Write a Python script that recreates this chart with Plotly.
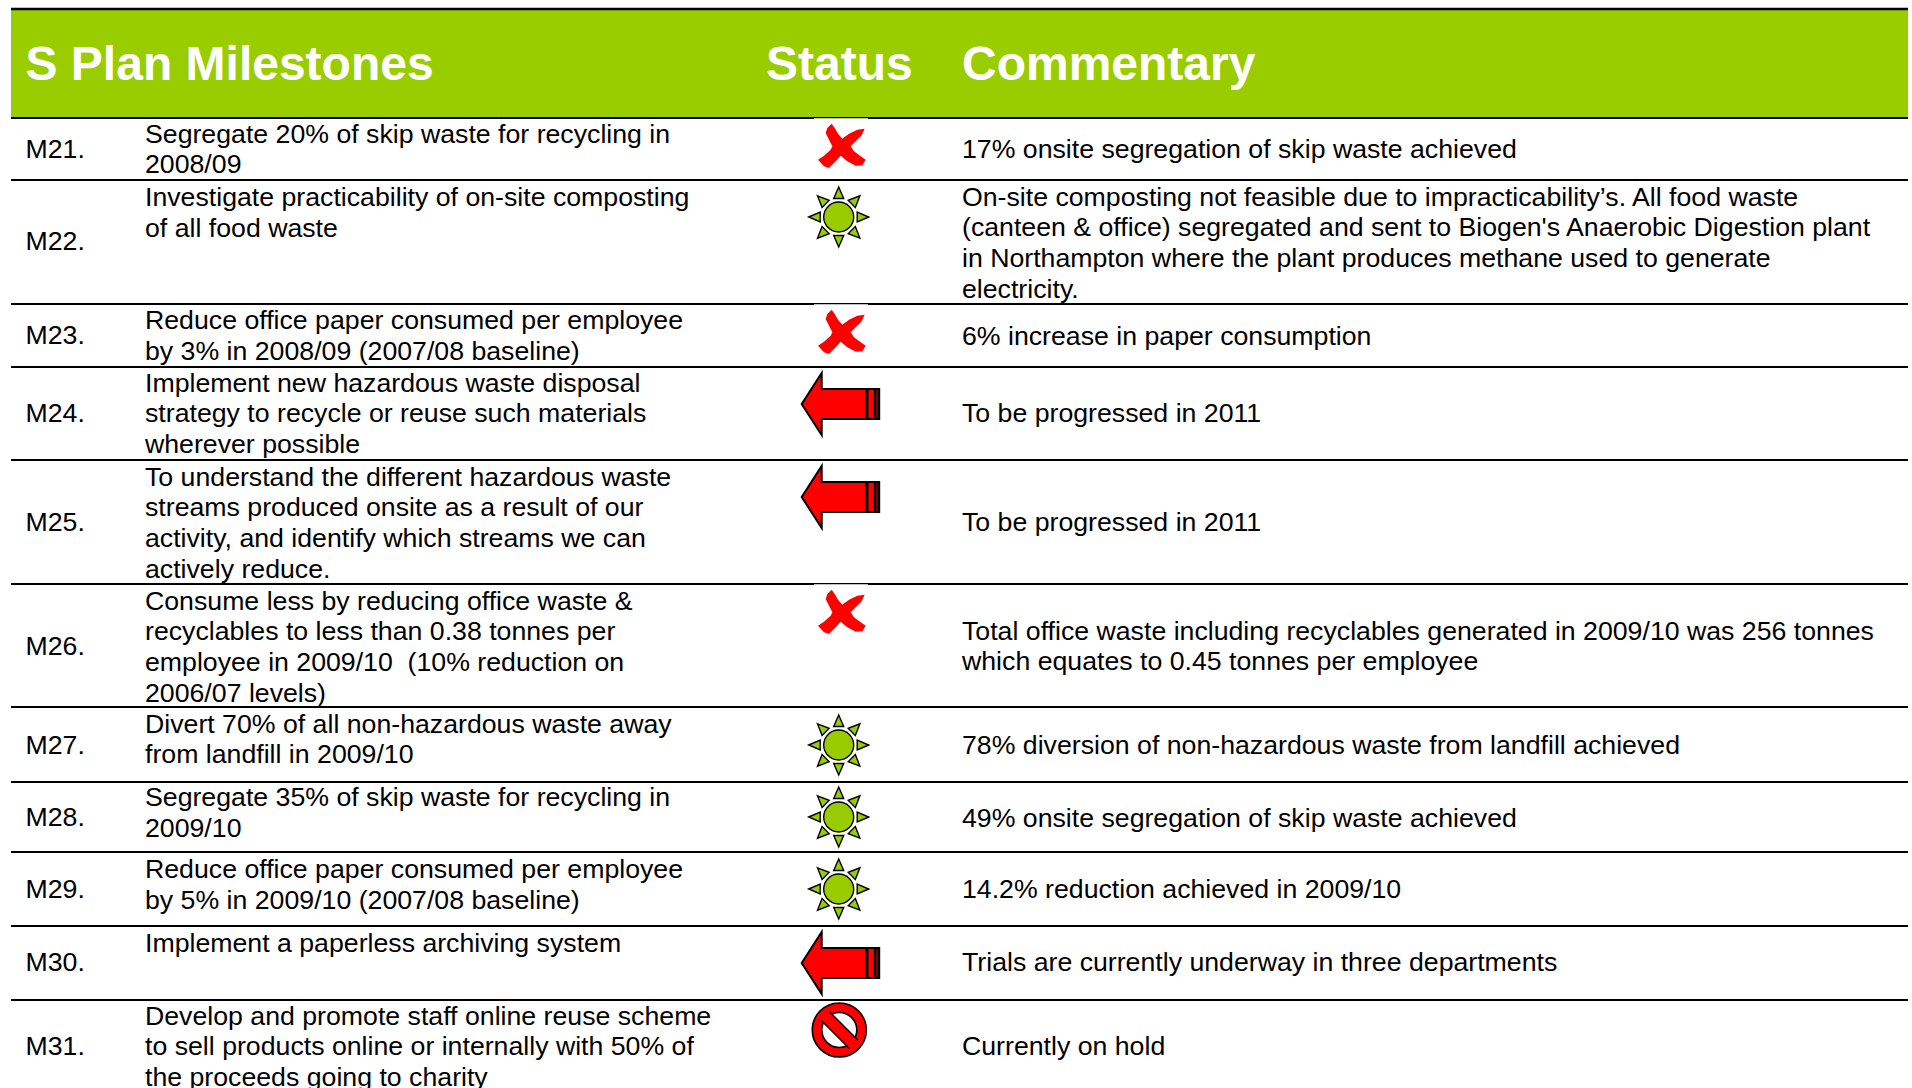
import math
import plotly.graph_objects as go

# ---------- content ----------
header_titles = ["S Plan Milestones", "Status", "Commentary"]
milestone_ids = ["M21.", "M22.", "M23.", "M24.", "M25.", "M26.", "M27.", "M28.", "M29.", "M30.", "M31."]
milestones = [
    ["Segregate 20% of skip waste for recycling in", "2008/09"],
    ["Investigate practicability of on-site composting", "of all food waste"],
    ["Reduce office paper consumed per employee", "by 3% in 2008/09 (2007/08 baseline)"],
    ["Implement new hazardous waste disposal", "strategy to recycle or reuse such materials", "wherever possible"],
    ["To understand the different hazardous waste", "streams produced onsite as a result of our", "activity, and identify which streams we can", "actively reduce."],
    ["Consume less by reducing office waste &", "recyclables to less than 0.38 tonnes per", "employee in 2009/10  (10% reduction on", "2006/07 levels)"],
    ["Divert 70% of all non-hazardous waste away", "from landfill in 2009/10"],
    ["Segregate 35% of skip waste for recycling in", "2009/10"],
    ["Reduce office paper consumed per employee", "by 5% in 2009/10 (2007/08 baseline)"],
    ["Implement a paperless archiving system"],
    ["Develop and promote staff online reuse scheme", "to sell products online or internally with 50% of", "the proceeds going to charity"],
]
statuses = ["cross", "sun", "cross", "arrow", "arrow", "cross", "sun", "sun", "sun", "arrow", "ban"]
commentary = [
    ["17% onsite segregation of skip waste achieved"],
    ["On-site composting not feasible due to impracticability\u2019s. All food waste",
     "(canteen & office) segregated and sent to Biogen's Anaerobic Digestion plant",
     "in Northampton where the plant produces methane used to generate", "electricity."],
    ["6% increase in paper consumption"],
    ["To be progressed in 2011"],
    ["To be progressed in 2011"],
    ["Total office waste including recyclables generated in 2009/10 was 256 tonnes",
     "which equates to 0.45 tonnes per employee"],
    ["78% diversion of non-hazardous waste from landfill achieved"],
    ["49% onsite segregation of skip waste achieved"],
    ["14.2% reduction achieved in 2009/10"],
    ["Trials are currently underway in three departments"],
    ["Currently on hold"],
]

# ---------- layout (page pixels) ----------
W, H = 1912, 1088
LEFT, RIGHT = 11, 1908
X_ID, X_MS, X_STATUS_HEAD, X_COMM = 25.5, 145, 766, 962
HEAD_Y = 67.5
PITCH = 30.7
SEPARATORS = [118, 180, 304, 367, 460, 584, 707, 782, 852, 926, 1000]
ID_Y = [151, 243.5, 337.5, 415.5, 524, 648, 747, 819, 891, 964, 1048]
MS_Y = [136, 199.5, 322.5, 385, 479, 603, 726, 799.5, 871.5, 945, 1018]
COMM_Y = [151, 199, 338, 415.5, 524, 633, 747, 820, 891, 964, 1048]
ICON_Y = [146, 217, 332, 404, 497, 612, 745, 817, 889, 963, 1030]
ICON_X = {"cross": 841, "sun": 838.7, "arrow": 801.7, "ban": 839.3}
BODY_SIZE = 26.7
HEAD_SIZE = 48
GREEN = "#9ACD00"
RED = "#FF0000"
SUN_FILL = "#99CC00"


def poly(pts):
    return "M " + " L ".join(f"{x:.2f},{y:.2f}" for x, y in pts) + " Z"


def path_shape(d, fill, line=None, width=0):
    return dict(type="path", path=d, xref="x", yref="y", fillcolor=fill,
                line=dict(color=line or "rgba(0,0,0,0)", width=width), layer="above")


def circle_shape(cx, cy, r, fill, line, width):
    return dict(type="circle", x0=cx - r, x1=cx + r, y0=cy - r, y1=cy + r, xref="x", yref="y",
                fillcolor=fill, line=dict(color=line, width=width), layer="above")


CROSS_OUTLINE = [(200, 25), (213, 12), (222, 25), (232, 42), (245, 57), (265, 42), (290, 30), (312, 27),
                 (302, 48), (285, 65), (270, 80), (280, 95), (300, 110), (315, 120), (305, 137), (285, 138),
                 (260, 125), (240, 108), (225, 125), (205, 145), (190, 140), (172, 120), (190, 108), (210, 90),
                 (215, 80), (205, 60), (195, 40)]


def cross_icon(cx, cy):
    return [path_shape(poly([(cx + (x - 241) / 3, cy + (y - 79) / 3) for x, y in CROSS_OUTLINE]), RED)]


def sun_icon(cx, cy):
    out = []
    for k in range(8):
        a = k * math.pi / 4
        ux, uy = math.cos(a), math.sin(a)
        px, py = -uy, ux
        tip = (cx + 30 * ux, cy + 30 * uy)
        b1 = (cx + 18.5 * ux + 5 * px, cy + 18.5 * uy + 5 * py)
        b2 = (cx + 18.5 * ux - 5 * px, cy + 18.5 * uy - 5 * py)
        out.append(path_shape(poly([tip, b1, b2]), SUN_FILL, "black", 1.4))
    out.append(circle_shape(cx, cy, 15, SUN_FILL, "black", 1.4))
    return out


def arrow_icon(tx, cy):
    pts = [(0, 0), (20, -31), (20, -15), (65, -15), (65, 15), (20, 15), (20, 31)]
    out = [path_shape(poly([(tx + x, cy + y) for x, y in pts]), RED, "black", 2)]
    out.append(path_shape(poly([(tx + 65, cy - 15), (tx + 77.5, cy - 15), (tx + 77.5, cy + 15), (tx + 65, cy + 15)]),
                          RED, "black", 2))
    for dx in (65.5, 73.5, 77):
        out.append(dict(type="line", x0=tx + dx, x1=tx + dx, y0=cy - 15, y1=cy + 15, xref="x", yref="y",
                        line=dict(color="black", width=2.6), layer="above"))
    return out


def ban_icon(cx, cy):
    out = [circle_shape(cx, cy, 27, RED, "black", 1.6),
           circle_shape(cx, cy, 17.5, "white", "black", 1.6)]
    d = 0.7071
    L, hw = 19.5, 6
    pts = [(cx - L * d + hw * d, cy - L * d - hw * d), (cx + L * d + hw * d, cy + L * d - hw * d),
           (cx + L * d - hw * d, cy + L * d + hw * d), (cx - L * d - hw * d, cy - L * d + hw * d)]
    out.append(path_shape(poly(pts), RED, "black", 1.4))
    # join the bar to the ring without the end caps of its outline
    for s in (-1, 1):
        e0, e1 = 17, 22
        pts = [(cx + s * e0 * d + hw * 0.85 * d, cy + s * e0 * d - hw * 0.85 * d),
               (cx + s * e1 * d + hw * 0.85 * d, cy + s * e1 * d - hw * 0.85 * d),
               (cx + s * e1 * d - hw * 0.85 * d, cy + s * e1 * d + hw * 0.85 * d),
               (cx + s * e0 * d - hw * 0.85 * d, cy + s * e0 * d + hw * 0.85 * d)]
        out.append(path_shape(poly(pts), RED))
    return out


ICONS = {"cross": cross_icon, "sun": sun_icon, "arrow": arrow_icon, "ban": ban_icon}

shapes = [
    dict(type="rect", x0=LEFT, x1=RIGHT, y0=9, y1=118, xref="x", yref="y", fillcolor=GREEN, line=dict(width=0), layer="below"),
    dict(type="line", x0=LEFT, x1=RIGHT, y0=9, y1=9, xref="x", yref="y", line=dict(color="black", width=2.5), layer="below"),
]
for y in SEPARATORS:
    shapes.append(dict(type="line", x0=LEFT, x1=RIGHT, y0=y, y1=y, xref="x", yref="y",
                       line=dict(color="black", width=2), layer="below"))
# the white backing of the cross icon nicks the rule above it
for i, status in enumerate(statuses):
    if status == "cross":
        y = SEPARATORS[i]
        shapes.append(dict(type="rect", x0=814, x1=868, y0=y + 0.2, y1=y + 1.5, xref="x", yref="y",
                           fillcolor="white", line=dict(width=0), layer="below"))
for status, y in zip(statuses, ICON_Y):
    shapes.extend(ICONS[status](ICON_X[status], y))


def lines_xy(rows, x, first_y):
    xs, ys, ts = [], [], []
    for lines, y0 in zip(rows, first_y):
        for i, t in enumerate(lines):
            xs.append(x)
            ys.append(y0 + i * PITCH)
            ts.append(t)
    return xs, ys, ts


def text_trace(xs, ys, ts, size, color, weight="normal"):
    return go.Scatter(x=xs, y=ys, text=ts, mode="text", textposition="middle right", hoverinfo="skip",
                      cliponaxis=False, showlegend=False,
                      textfont=dict(family="Liberation Sans, Arial, sans-serif", size=size, color=color, weight=weight))


fig = go.Figure()
fig.add_trace(text_trace([X_ID, X_STATUS_HEAD, X_COMM], [HEAD_Y] * 3, header_titles, HEAD_SIZE, "white", "bold"))
fig.add_trace(text_trace([X_ID] * len(milestone_ids), ID_Y, milestone_ids, BODY_SIZE, "black"))
fig.add_trace(text_trace(*lines_xy(milestones, X_MS, MS_Y), BODY_SIZE, "black"))
fig.add_trace(text_trace(*lines_xy(commentary, X_COMM, COMM_Y), BODY_SIZE, "black"))

fig.update_layout(
    width=W, height=H, margin=dict(l=0, r=0, t=0, b=0), paper_bgcolor="white", plot_bgcolor="white",
    xaxis=dict(range=[0, W], visible=False, fixedrange=True),
    yaxis=dict(range=[H, 0], visible=False, fixedrange=True),
    shapes=shapes, showlegend=False,
)
fig.write_html("out.html", config={"displayModeBar": False},
               post_script="document.body.style.margin='0';document.body.style.overflow='hidden';")
